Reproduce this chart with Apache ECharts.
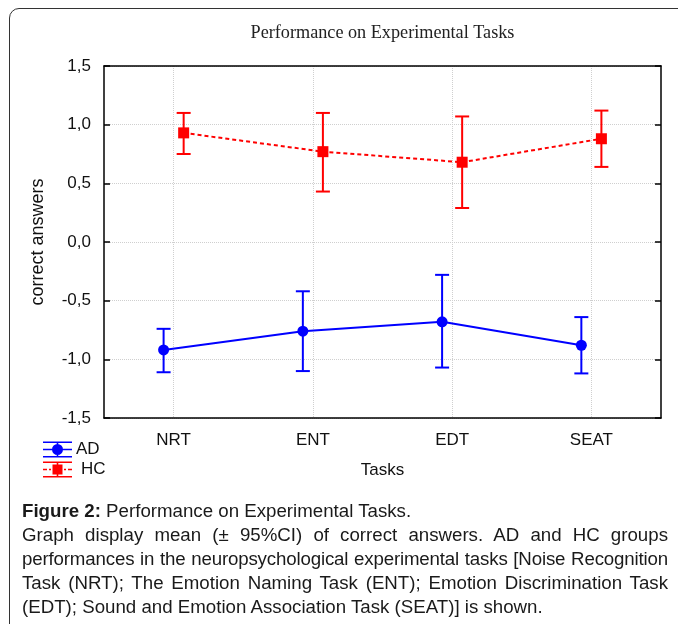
<!DOCTYPE html>
<html>
<head>
<meta charset="utf-8">
<script src="https://cdn.jsdelivr.net/npm/echarts@6/dist/echarts.min.js"></script>
<style>
  body { margin: 0; width: 678px; height: 624px; overflow: hidden; background: #fff; position: relative; }
  .frame {
    position: absolute; left: 9px; top: 8px; width: 720px; height: 700px;
    border: 1.5px solid #333; border-radius: 10px; box-sizing: border-box;
  }
  #chart { position: absolute; left: 0; top: 0; width: 678px; height: 500px; }
  .caption {
    position: absolute; left: 22px; top: 499px; width: 646px;
    font-family: "Liberation Sans", Arial, sans-serif; font-size: 18.7px; line-height: 24px; color: #1a1a1a;
  }
  .caption .ln { text-align: justify; text-align-last: justify; white-space: nowrap; }
  .caption .ln.last { text-align-last: left; }
  .caption .ln.tight { letter-spacing: -0.16px; }
</style>
</head>
<body>
<div class="frame"></div>
<div id="chart"></div>
<div class="caption">
  <div class="ln last"><b>Figure 2:</b> Performance on Experimental Tasks.</div>
  <div class="ln">Graph display mean (± 95%CI) of correct answers. AD and HC groups</div>
  <div class="ln tight">performances in the neuropsychological experimental tasks [Noise Recognition</div>
  <div class="ln">Task (NRT); The Emotion Naming Task (ENT); Emotion Discrimination Task</div>
  <div class="ln last">(EDT); Sound and Emotion Association Task (SEAT)] is shown.</div>
</div>
<script>
const tasks = ['NRT', 'ENT', 'EDT', 'SEAT']

// mean and 95% CI bounds
const adMean = [-0.92, -0.76, -0.68, -0.88]
const adLow = [-1.11, -1.10, -1.07, -1.12]
const adHigh = [-0.74, -0.42, -0.28, -0.64]

const hcMean = [0.93, 0.77, 0.68, 0.88]
const hcLow = [0.75, 0.43, 0.29, 0.64]
const hcHigh = [1.10, 1.10, 1.07, 1.12]

const BLUE = '#0000ff'
const RED = '#ff0000'
const dodge = 0.072 // groups are drawn slightly apart around each task
const font = '"Liberation Sans", Arial, sans-serif'

const chart = echarts.init(document.getElementById('chart'))

const errorBar = (color) => (params, api) => {
  const x = api.value(0)
  const top = api.coord([x, api.value(2)])
  const bot = api.coord([x, api.value(1)])
  const half = 7
  const style = { stroke: color, lineWidth: 2 }
  return {
    type: 'group',
    children: [
      { type: 'line', shape: { x1: top[0], y1: top[1], x2: bot[0], y2: bot[1] }, style },
      { type: 'line', shape: { x1: top[0] - half, y1: top[1], x2: top[0] + half, y2: top[1] }, style },
      { type: 'line', shape: { x1: bot[0] - half, y1: bot[1], x2: bot[0] + half, y2: bot[1] }, style }
    ]
  }
}

const adIcon = 'path://M0,0H29V1.6H0Z M0,14.4H29V16H0Z M0,7.2H29V8.8H0Z M13.7,0H15.3V16H13.7Z M9,8A5.5,5.5,0,1,1,20,8A5.5,5.5,0,1,1,9,8Z'
const hcIcon = 'path://M0,0H29V1.6H0Z M0,14.4H29V16H0Z M13.7,0H15.3V16H13.7Z M0,7.2H4V8.8H0Z M6,7.2H8V8.8H6Z M21,7.2H23V8.8H21Z M25,7.2H29V8.8H25Z M9.5,3H19.5V13H9.5Z'

const axisLine = { show: true, onZero: false, lineStyle: { color: '#000', width: 1.5 } }
const tickStyle = { color: '#000', width: 1.5 }
const gridLine = { show: true, lineStyle: { color: '#cfcfcf', type: 'dotted', width: 1 } }

const option = {
  animation: false,
  grid: { left: 104, right: 17, top: 66, bottom: 82 },
  graphic: [
    {
      type: 'text', x: 382.5, y: 33,
      style: {
        text: 'Performance on Experimental Tasks',
        font: '18.2px "Liberation Serif", "Times New Roman", serif',
        fill: '#222', textAlign: 'center', textVerticalAlign: 'middle'
      }
    }
  ],
  legend: [
    {
      data: [{ name: 'AD', icon: adIcon }],
      left: 43, top: 441, padding: 0,
      itemWidth: 29, itemHeight: 16,
      textStyle: { fontSize: 17, color: '#111', fontFamily: font, padding: [0, 0, 0, -1] }
    },
    {
      data: [{ name: 'HC', icon: hcIcon }],
      left: 43, top: 461, padding: 0,
      itemWidth: 29, itemHeight: 16,
      textStyle: { fontSize: 17, color: '#111', fontFamily: font, padding: [0, 0, 0, 4] }
    }
  ],
  xAxis: [
    {
      type: 'category', data: tasks, position: 'bottom',
      axisLine,
      axisTick: { inside: true, alignWithLabel: true, length: 7, lineStyle: tickStyle },
      axisLabel: { fontSize: 17, color: '#111', fontFamily: font, margin: 14 },
      splitLine: Object.assign({ alignWithLabel: true }, gridLine),
      name: 'Tasks', nameLocation: 'middle', nameGap: 44,
      nameTextStyle: { fontSize: 17, color: '#111', fontFamily: font }
    },
    { type: 'value', min: -0.5, max: 3.5, show: false },
    {
      type: 'category', data: tasks, position: 'top',
      axisLine,
      axisTick: { inside: true, alignWithLabel: true, length: 7, lineStyle: tickStyle },
      axisLabel: { show: false },
      splitLine: { show: false }
    }
  ],
  yAxis: [
    {
      type: 'value', min: -1.5, max: 1.5, interval: 0.5, position: 'left',
      axisLine,
      axisTick: { show: true, inside: true, length: 6, lineStyle: tickStyle },
      axisLabel: {
        fontSize: 17, color: '#111', fontFamily: font, margin: 13,
        formatter: (v) => v.toFixed(1).replace('.', ',')
      },
      splitLine: gridLine,
      name: 'correct answers', nameLocation: 'middle', nameGap: 57,
      nameTextStyle: { fontSize: 18, color: '#111', fontFamily: font }
    },
    {
      type: 'value', min: -1.5, max: 1.5, interval: 0.5, position: 'right',
      axisLine,
      axisTick: { show: true, inside: true, length: 6, lineStyle: tickStyle },
      axisLabel: { show: false },
      splitLine: { show: false }
    }
  ],
  series: [
    {
      name: 'AD CI', type: 'custom', xAxisIndex: 1, yAxisIndex: 0,
      renderItem: errorBar(BLUE), z: 2,
      data: tasks.map((t, i) => [i - dodge, adLow[i], adHigh[i]])
    },
    {
      name: 'HC CI', type: 'custom', xAxisIndex: 1, yAxisIndex: 0,
      renderItem: errorBar(RED), z: 2,
      data: tasks.map((t, i) => [i + dodge, hcLow[i], hcHigh[i]])
    },
    {
      name: 'AD', type: 'line', xAxisIndex: 1, yAxisIndex: 0, z: 3,
      symbol: 'circle', symbolSize: 11,
      itemStyle: { color: BLUE },
      lineStyle: { color: BLUE, width: 2 },
      data: tasks.map((t, i) => [i - dodge, adMean[i]])
    },
    {
      name: 'HC', type: 'line', xAxisIndex: 1, yAxisIndex: 0, z: 3,
      symbol: 'rect', symbolSize: 11,
      itemStyle: { color: RED },
      lineStyle: { color: RED, width: 2, type: [4, 3] },
      data: tasks.map((t, i) => [i + dodge, hcMean[i]])
    }
  ]
}

chart.setOption(option)
</script>
</body>
</html>
